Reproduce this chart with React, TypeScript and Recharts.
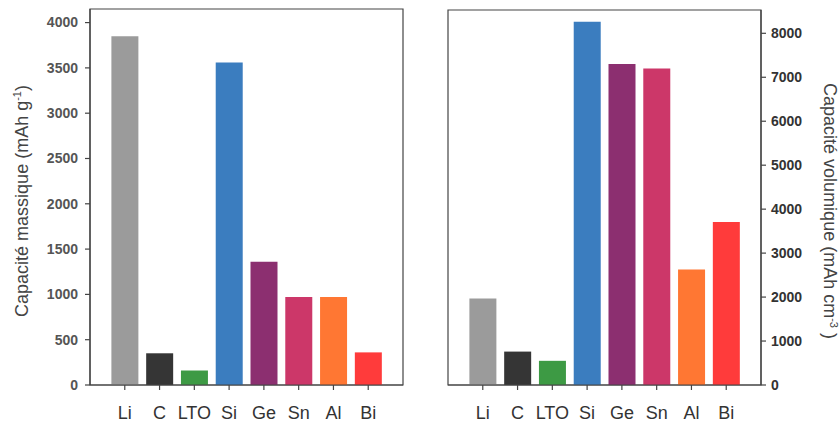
import { BarChart, Bar, XAxis, YAxis, Cell, ReferenceArea } from "recharts";

const materials = ["Li", "C", "LTO", "Si", "Ge", "Sn", "Al", "Bi"];
const massCapacity = [3850, 350, 160, 3560, 1360, 970, 970, 360];
const volumeCapacity = [1970, 760, 550, 8260, 7300, 7200, 2630, 3710];
const barColors = ["#9b9b9b", "#353535", "#3d9a44", "#3b7dbf", "#8c2f70", "#cc3769", "#ff7733", "#ff3b3b"];

// major ticks carry a label, the ones in between are minor
const massTicks = [0, 250, 500, 750, 1000, 1250, 1500, 1750, 2000, 2250, 2500, 2750, 3000, 3250, 3500, 3750, 4000];
const massMajorStep = 500;
const massMax = 4150;
const volumeTicks = [0, 500, 1000, 1500, 2000, 2500, 3000, 3500, 4000, 4500, 5000, 5500, 6000, 6500, 7000, 7500, 8000];
const volumeMajorStep = 1000;
const volumeMax = 8530;

// materials sit on a numeric axis so the plot keeps one empty slot on each side
const positions = materials.map((_, i) => i);
const xDomain = [-1, materials.length];

const data = materials.map((name, i) => ({
  name,
  pos: positions[i],
  mass: massCapacity[i],
  volume: volumeCapacity[i],
}));

const FONT = "'Liberation Sans', Arial, Helvetica, sans-serif";
const AXIS = "#444";

function MassTick({ x, y, payload }: any) {
  const major = payload.value % massMajorStep === 0;
  return (
    <g>
      <line x1={x} x2={x - (major ? 5 : 3)} y1={y} y2={y} stroke={AXIS} strokeWidth={1.2} />
      {major && (
        <text x={x - 12} y={y} dy="0.35em" textAnchor="end" fontFamily={FONT} fontSize={14} fontWeight="bold" fill="#555">
          {payload.value}
        </text>
      )}
    </g>
  );
}

function VolumeTick({ x, y, payload }: any) {
  const major = payload.value % volumeMajorStep === 0;
  return (
    <g>
      <line x1={x} x2={x + (major ? 5 : 3)} y1={y} y2={y} stroke={AXIS} strokeWidth={1.2} />
      {major && (
        <text x={x + 10} y={y} dy="0.35em" textAnchor="start" fontFamily={FONT} fontSize={14} fontWeight="bold" fill="#333">
          {payload.value}
        </text>
      )}
    </g>
  );
}

const massTitle = () => (
  <text x={28} y={201} transform="rotate(-90 28 201)" textAnchor="middle" fontFamily={FONT} fontSize={18} fill="#444">
    Capacité massique (mAh g<tspan dy={-7} fontSize={11}>-1</tspan>
    <tspan dy={7}>)</tspan>
  </text>
);

const volumeTitle = () => (
  <text x={404} y={211} transform="rotate(90 404 211)" textAnchor="middle" fontFamily={FONT} fontSize={18} fill="#444">
    Capacité volumique (mAh cm<tspan dy={-6} fontSize={11}>-3</tspan>
    <tspan dy={6}> )</tspan>
  </text>
);

const categoryTick = { fontFamily: FONT, fontSize: 18, fill: "#333" };

export default function App() {
  const xAxis = (
    <XAxis
      dataKey="pos"
      type="number"
      domain={xDomain}
      ticks={positions}
      tickFormatter={(v: number) => materials[v]}
      height={41}
      tickSize={5}
      tickMargin={16}
      tick={categoryTick}
      stroke={AXIS}
      strokeWidth={1.2}
      interval={0}
    />
  );

  return (
    <div style={{ position: "absolute", left: 0, top: 0, width: 839, height: 426, background: "#fff" }}>
      <div style={{ position: "absolute", left: 0, top: 0 }}>
        <BarChart width={420} height={426} data={data} margin={{ top: 9, right: 17, left: 30, bottom: 0 }}>
          {xAxis}
          <YAxis
            width={60}
            domain={[0, massMax]}
            ticks={massTicks}
            tickSize={0}
            tickMargin={0}
            tick={<MassTick />}
            stroke={AXIS}
            strokeWidth={1.2}
            label={{ content: massTitle }}
          />
          <Bar dataKey="mass" barSize={27} isAnimationActive={false}>
            {data.map((d, i) => (
              <Cell key={d.name} fill={barColors[i]} />
            ))}
          </Bar>
          {/* closes the box around the plot */}
          <ReferenceArea y1={0} y2={massMax} fill="none" stroke={AXIS} strokeWidth={1.2} ifOverflow="visible" />
        </BarChart>
      </div>
      <div style={{ position: "absolute", left: 420, top: 0 }}>
        <BarChart width={419} height={426} data={data} margin={{ top: 10, right: 20, left: 28, bottom: 0 }}>
          {xAxis}
          <YAxis
            orientation="right"
            width={58}
            domain={[0, volumeMax]}
            ticks={volumeTicks}
            tickSize={0}
            tickMargin={0}
            tick={<VolumeTick />}
            stroke={AXIS}
            strokeWidth={1.2}
            label={{ content: volumeTitle }}
          />
          <Bar dataKey="volume" barSize={27} isAnimationActive={false}>
            {data.map((d, i) => (
              <Cell key={d.name} fill={barColors[i]} />
            ))}
          </Bar>
          <ReferenceArea y1={0} y2={volumeMax} fill="none" stroke={AXIS} strokeWidth={1.2} ifOverflow="visible" />
        </BarChart>
      </div>
    </div>
  );
}
